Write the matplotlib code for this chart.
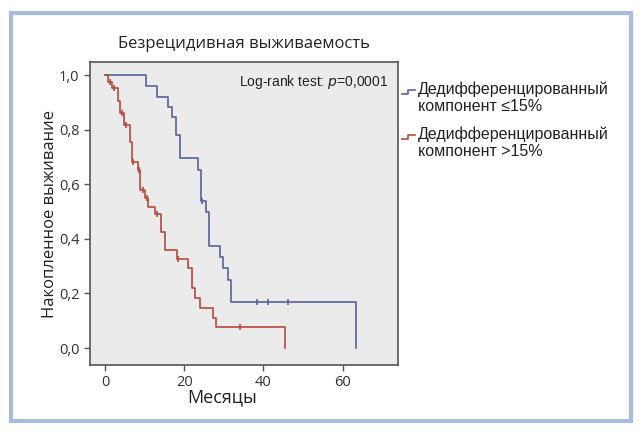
import matplotlib.pyplot as plt
import numpy as np
from matplotlib.lines import Line2D
from matplotlib.patches import Rectangle

# Kaplan-Meier steps
blue_times = [10.3, 13.0, 15.8, 16.8, 17.9, 18.9, 23.4, 24.2, 25.4, 26.2, 29.0, 29.8, 31.0, 31.9, 63.3]
blue_surv = [0.961, 0.921, 0.884, 0.847, 0.780, 0.695, 0.652, 0.540, 0.497, 0.374, 0.334, 0.292, 0.249, 0.170, 0.0]
blue_censor = [24.6, 38.3, 41.2, 46.2]

red_times = [0.8, 1.7, 3.3, 3.9, 4.9, 6.2, 6.8, 8.3, 8.8, 10.0, 10.8, 12.6, 14.2, 15.1,
             18.1, 21.0, 22.0, 22.8, 24.1, 27.2, 28.1, 45.4]
red_surv = [0.976, 0.952, 0.905, 0.860, 0.817, 0.756, 0.682, 0.652, 0.579, 0.550, 0.518, 0.490,
            0.426, 0.359, 0.328, 0.292, 0.219, 0.182, 0.145, 0.110, 0.077, 0.0]
red_censor = [1.2, 2.3, 4.2, 5.2, 7.1, 8.5, 9.7, 10.5, 13.0, 18.4, 34.0]

x_ticks = [0, 20, 40, 60]
y_ticks = [0.0, 0.2, 0.4, 0.6, 0.8, 1.0]

legend_labels = ["Дедифференцированный\nкомпонент ≤15%", "Дедифференцированный\nкомпонент >15%"]
title = "Безрецидивная выживаемость"
x_label = "Месяцы"
y_label = "Накопленное выживание"

BLUE = "#56629f"
RED = "#b8493d"
W, H = 642, 433


def surv_at(times, surv, t):
    idx = np.searchsorted(times, t, side="right")
    return 1.0 if idx == 0 else surv[idx - 1]


def draw_curve(ax, times, surv, censor, color):
    xs = [0.0] + list(times)
    ys = [1.0] + list(surv)
    ax.step(xs, ys, where="post", color=color, lw=1.2)
    cy = [surv_at(times, surv, t) for t in censor]
    ax.plot(censor, cy, ls="none", marker="|", ms=5, mew=1.2, color=color)


fig = plt.figure(figsize=(W / 100, H / 100), dpi=100)
fig.patch.set_facecolor("white")

# light blue frame around the whole figure
fig.patches.append(Rectangle((11 / W, 1 - 421 / H), 620 / W, 408 / H, transform=fig.transFigure,
                             fill=False, ec="#a9bbdf", lw=3))

ax = fig.add_axes([90 / W, 1 - 365 / H, 308 / W, 303 / H])
ax.set_facecolor("#ebebeb")
for s in ax.spines.values():
    s.set_color("#555555")
    s.set_linewidth(1.2)

draw_curve(ax, blue_times, blue_surv, blue_censor, BLUE)
draw_curve(ax, red_times, red_surv, red_censor, RED)

ax.set_xlim(-3.8, 74)
ax.set_ylim(-0.062, 1.048)
ax.set_xticks(x_ticks)
ax.set_yticks(y_ticks)
ax.set_yticklabels([f"{v:.1f}".replace(".", ",") for v in y_ticks])
ax.tick_params(direction="out", length=4, width=1, color="#555555", labelcolor="#333333",
               labelsize=10.5)
for lab in ax.get_xticklabels() + ax.get_yticklabels():
    lab.set_family("Open Sans")

ax.set_title(title, family="Open Sans", fontsize=12, color="#222222", pad=10)
ax.set_xlabel(x_label, family="Open Sans", fontsize=13, color="#222222", va="center")
ax.set_ylabel(y_label, family="Open Sans", fontsize=12, color="#222222", va="center")
ax.xaxis.set_label_coords((222 - 90) / 308, -(397 - 365) / 303)
ax.yaxis.set_label_coords(-(50 - 90) / -308, 0.5)

ax.text(0.97, 0.935, "Log-rank test: $\\it{p}$=0,0001", transform=ax.transAxes, ha="right",
        va="center", family="Liberation Sans", fontsize=10, color="#222222")

# legend outside the axes, with small step glyphs
for i, (label, color) in enumerate(zip(legend_labels, [BLUE, RED])):
    y0 = 92 + i * 45
    gx = [402, 408, 408, 415]
    gy = [y0 + 2, y0 + 2, y0 - 2, y0 - 2]
    fig.lines.append(Line2D([v / W for v in gx], [1 - v / H for v in gy], transform=fig.transFigure,
                            color=color, lw=1.2))
    fig.text(418 / W, 1 - (y0 + 6) / H, label, ha="left", va="center", family="Liberation Sans",
             fontsize=11.5, color="#222222", linespacing=1.2)

fig.savefig("out.png", dpi=100)
